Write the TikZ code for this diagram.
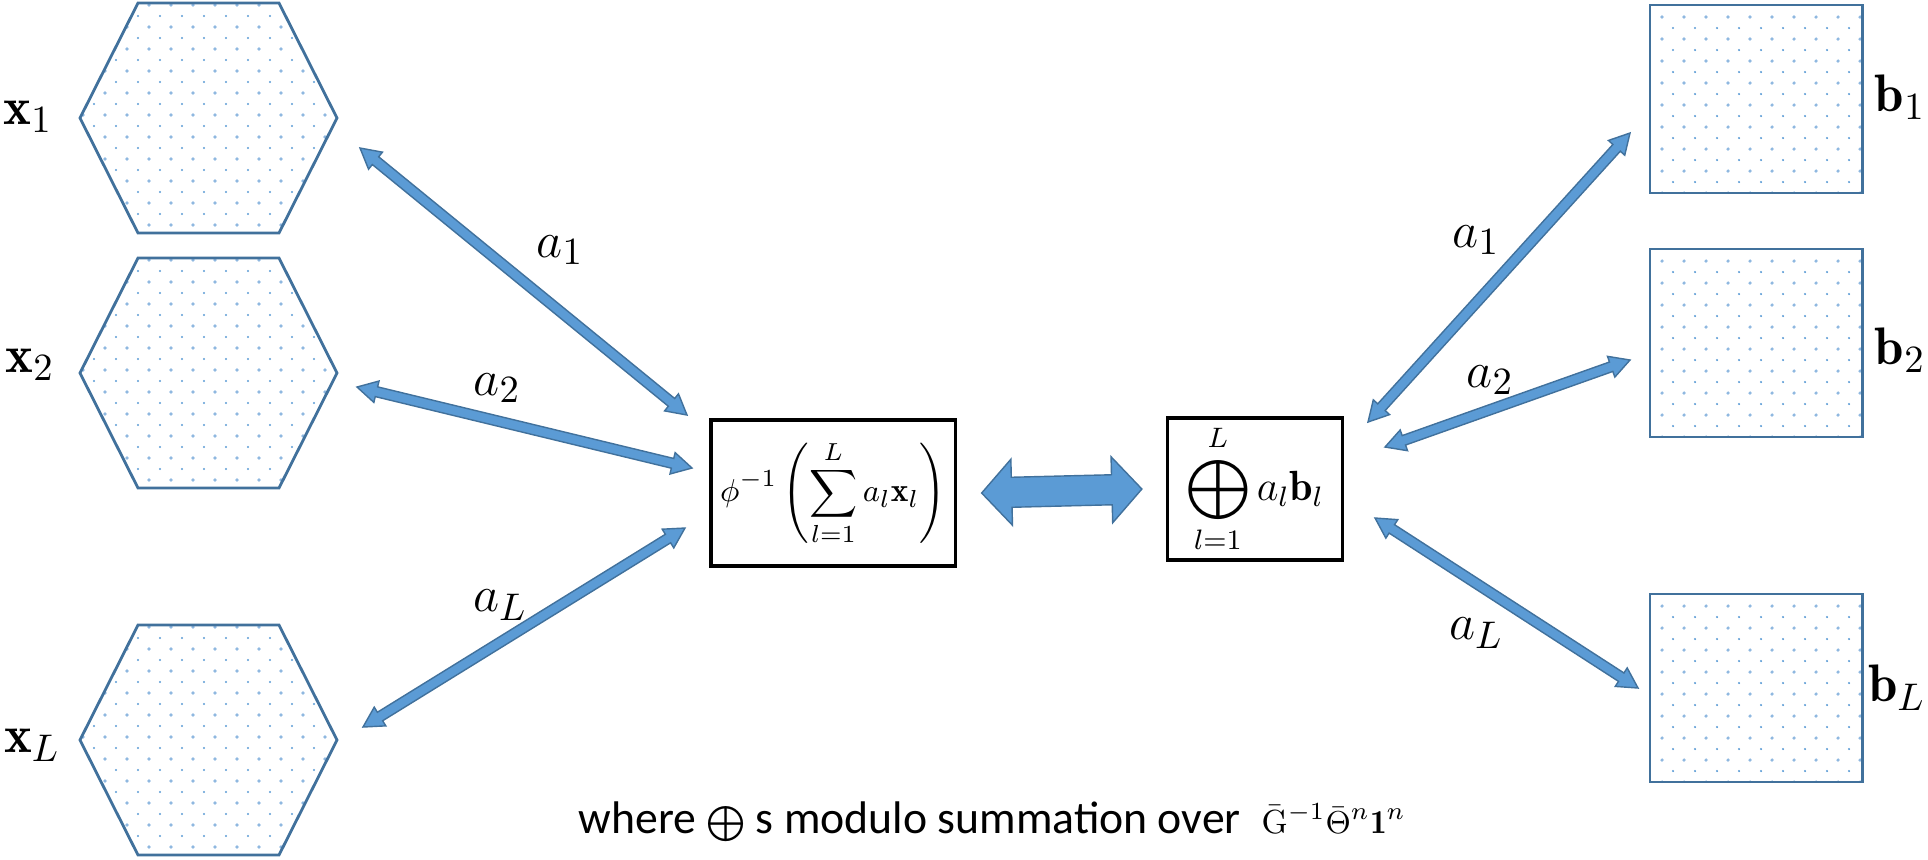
\documentclass[tikz,border=0pt]{standalone}
\usepackage{amsmath}
\usepackage{amssymb}
\usepackage{fontspec}
\newfontfamily\carlito{Carlito}
\usetikzlibrary{calc}
\definecolor{arrowblue}{HTML}{5B9BD5}
\definecolor{edgeblue}{HTML}{41719C}
\definecolor{dotblue}{HTML}{8FB8E0}
\tikzset{shapeline/.style={draw=edgeblue, line width=0.8pt},
 sumbox/.style={draw=black, line width=0.9pt, inner sep=0pt},
 arrowbody/.style={fill=arrowblue, draw=edgeblue, line width=0.4pt},
 varlabel/.style={font=\fontsize{15}{18}\selectfont},
 }

% dotted filling, #1 #2 = top left corner
\newcommand{\dotgrid}[2]{%
 \foreach \i in {0,...,12} {
  \foreach \j in {0,...,10} {
   \fill[dotblue] (#1+22*\i, #2+22*\j) circle[radius=0.018cm];
   \fill[arrowblue] (#1+11+22*\i, #2+11+22*\j) circle[radius=0.012cm];
  }
 }}

% two-headed block arrow: ends, half shaft, half head, head length
\newcommand{\blockarrow}[5]{%
 \coordinate (p) at ($(#1)!#5!(#2)$);
 \coordinate (q) at ($(#2)!#5!(#1)$);
 \filldraw[arrowbody] (#1) -- ($(p)!#4!90:(#2)$) -- ($(p)!#3!90:(#2)$)
  -- ($(q)!#3!-90:(#1)$) -- ($(q)!#4!-90:(#1)$) -- (#2)
  -- ($(q)!#4!90:(#1)$) -- ($(q)!#3!90:(#1)$)
  -- ($(p)!#3!-90:(#2)$) -- ($(p)!#4!-90:(#2)$) -- cycle;}

\begin{document}
\begin{tikzpicture}[x=0.01cm, y=-0.01cm]
 \useasboundingbox (0,0) rectangle (1928,859);

 % hexagons
 \foreach \cy in {118,373,740} {
  \begin{scope}
   \clip (80,\cy) -- (138,\cy-115) -- (279,\cy-115) -- (337,\cy) -- (279,\cy+115) -- (138,\cy+115) -- cycle;
   \dotgrid{83}{\cy-113}
  \end{scope}
  \draw[shapeline] (80,\cy) -- (138,\cy-115) -- (279,\cy-115) -- (337,\cy) -- (279,\cy+115) -- (138,\cy+115) -- cycle;
 }

 % squares
 \foreach \cy/\nm in {99/b1, 343/b2, 688/bL} {
  \begin{scope}
   \clip (1650,\cy-94) rectangle (1862,\cy+94);
   \dotgrid{1662}{\cy-82}
  \end{scope}
  \node[shapeline, minimum width=2.12cm, minimum height=1.88cm] (\nm) at (1756,\cy) {};
 }

 \node[varlabel] (lx1) at (28,117) {$\mathbf{x}_1$};
 \node[varlabel] (lx2) at (30,365) {$\mathbf{x}_2$};
 \node[varlabel] (lxL) at (32,745) {$\mathbf{x}_L$};
 \node[varlabel, anchor=east, inner sep=0pt] (lb1) at (1926,97) {$\mathbf{b}_1$};
 \node[varlabel, anchor=east, inner sep=0pt] (lb2) at (1926,350) {$\mathbf{b}_2$};
 \node[varlabel, anchor=east, inner sep=0pt] (lbL) at (1926,688) {$\mathbf{b}_L$};

 % the two sums
 \node[sumbox, minimum width=2.44cm, minimum height=1.46cm, font=\fontsize{9.5}{11}\selectfont] (lsum) at (833,493)
  {$\displaystyle \phi^{-1}\left(\sum_{l=1}^{L} a_l\mathbf{x}_l\right)$};
 \node[sumbox, minimum width=1.75cm, minimum height=1.42cm, font=\fontsize{12}{14}\selectfont] (rsum) at (1255,489)
  {$\displaystyle \bigoplus_{l=1}^{L} a_l\mathbf{b}_l$};

 % arrow ends
 \foreach \s/\e [count=\k] in {{360,148}/{687,415}, {357,387}/{692,468}, {363,727}/{685,528},
   {1368,422}/{1630,133}, {1385,447}/{1630,360}, {1375,518}/{1638,688}} {
  \coordinate (s\k) at (\s);
  \coordinate (e\k) at (\e);
  \blockarrow{s\k}{e\k}{0.05cm}{0.11cm}{0.2cm}
 }
 \coordinate (ms) at ($(lsum.east)+(25,0)$);
 \coordinate (me) at ($(rsum.west)+(-24,0)$);
 \blockarrow{ms}{me}{0.15cm}{0.33cm}{0.3cm}

 \node[varlabel] (w1) at (560,250) {$a_1$};
 \node[varlabel] (w2) at (497,388) {$a_2$};
 \node[varlabel] (w3) at (500,605) {$a_L$};
 \node[varlabel] (w4) at (1476,240) {$a_1$};
 \node[varlabel] (w5) at (1490,380) {$a_2$};
 \node[varlabel] (w6) at (1476,633) {$a_L$};

 \node[anchor=base west, inner sep=0pt, font=\fontsize{13}{15}\selectfont] (note) at (578,833)
  {\carlito where {\fontsize{10}{12}\selectfont$\bigoplus$} s modulo summation over\ \ {\fontsize{9.5}{11}\selectfont$\bar{\mathrm{G}}^{-1}\bar{\Theta}^{n}\mathbf{1}^{n}$}};
\end{tikzpicture}
\end{document}
